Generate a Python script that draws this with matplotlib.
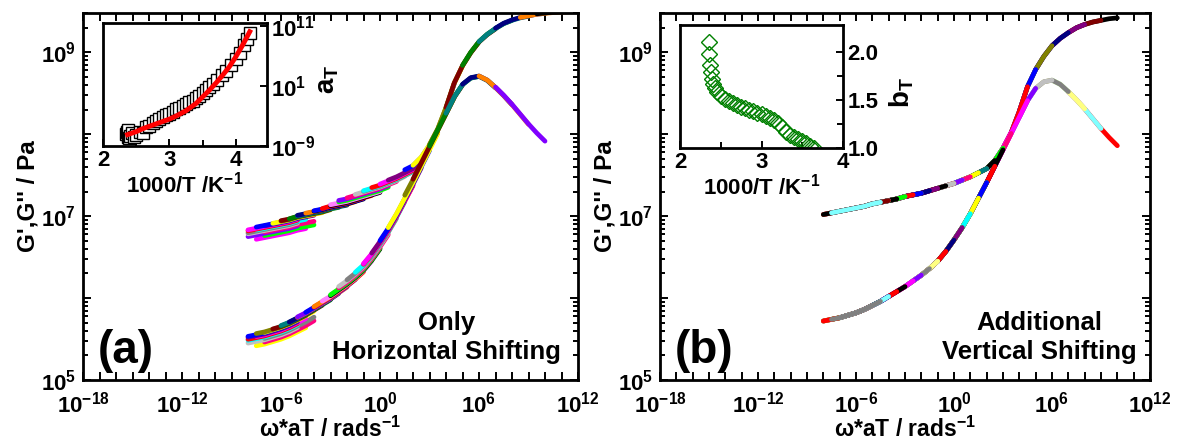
import numpy as np
import matplotlib
matplotlib.use("Agg")
import matplotlib.pyplot as plt
from matplotlib.ticker import FixedLocator, FuncFormatter, LogLocator, NullFormatter, NullLocator

plt.rcParams.update({
    "font.family": ["Liberation Sans", "DejaVu Sans"],
    "font.weight": "bold",
    "axes.labelweight": "bold",
    "mathtext.fontset": "custom",
    "mathtext.rm": "Liberation Sans:bold",
    "mathtext.it": "Liberation Sans:bold",
    "mathtext.bf": "Liberation Sans:bold",
    "mathtext.sf": "Liberation Sans:bold",
    "mathtext.default": "rm",
})

# ---------------------------------------------------------------- data
# measurement temperatures, 1000/T in K^-1
inv_T = [2.35, 2.36, 2.37, 2.38, 2.39, 2.40, 2.43, 2.46, 2.50, 2.55, 2.60,
         2.65, 2.70, 2.75, 2.80, 2.85, 2.90, 2.95, 3.00, 3.05, 3.10, 3.15,
         3.20, 3.25, 3.30, 3.35, 3.40, 3.45, 3.50, 3.55, 3.60, 3.65, 3.72,
         3.79, 3.86, 3.93, 4.00, 4.06, 4.12, 4.17, 4.21]
# horizontal shift factors, log10(a_T)
log_aT = [-7.0, -6.6, -7.5, -6.4, -7.6, -7.3, -6.9, -7.5, -7.2, -6.6, -6.9,
          -5.9, -5.6, -5.2, -4.9, -4.5, -4.2, -3.9, -3.6, -3.3, -2.9, -2.6,
          -2.3, -2.0, -1.7, -1.4, -1.0, -0.6, -0.2, 0.3, 0.8, 1.3, 2.0,
          2.8, 3.6, 4.5, 5.5, 6.6, 7.8, 8.9, 9.9]
# vertical shift factors b_T
b_T = [2.10, 1.98, 1.86, 1.79, 1.72, 1.67, 1.62, 1.58, 1.54, 1.51, 1.49,
       1.47, 1.45, 1.43, 1.42, 1.40, 1.38, 1.36, 1.35, 1.33, 1.31, 1.29,
       1.26, 1.22, 1.17, 1.14, 1.11, 1.09, 1.07, 1.05, 1.02, 1.00, 0.92,
       0.91, 0.90, 0.90, 0.89, 0.89, 0.88, 0.88, 0.87]
# fitted a_T curve
fit_inv_T = [2.37, 2.50, 2.60, 2.75, 2.90, 3.00, 3.10, 3.25, 3.40, 3.50,
             3.60, 3.70, 3.80, 3.90, 4.00, 4.10, 4.21]
fit_log_aT = [-7.1, -6.6, -6.1, -5.5, -4.9, -4.5, -4.0, -3.1, -1.9, -0.8,
              0.3, 1.5, 2.8, 4.2, 5.9, 7.8, 10.1]

# master curves after horizontal and vertical shifting (log10 w*aT, log10 G)
log_w_storage = np.arange(-8.0, 11.51, 0.5)
log_G_storage = [7.02, 7.04, 7.06, 7.08, 7.10, 7.12, 7.15, 7.17, 7.19, 7.21,
                 7.24, 7.26, 7.28, 7.31, 7.34, 7.37, 7.40, 7.44, 7.48, 7.53,
                 7.58, 7.68, 7.83, 8.02, 8.28, 8.58, 8.79, 8.95, 9.08, 9.17,
                 9.24, 9.30, 9.34, 9.37, 9.39, 9.41, 9.42, 9.43, 9.435, 9.44]
log_w_loss = np.arange(-8.0, 10.51, 0.5)
log_G_loss = [5.72, 5.74, 5.76, 5.79, 5.82, 5.86, 5.91, 5.96, 6.02, 6.08,
              6.14, 6.21, 6.28, 6.36, 6.45, 6.57, 6.71, 6.86, 7.03, 7.22,
              7.41, 7.61, 7.81, 8.01, 8.21, 8.41, 8.56, 8.64, 8.66, 8.61,
              8.52, 8.42, 8.31, 8.19, 8.07, 7.96, 7.86, 7.76]

# each frequency sweep: lowest log10(w) and width in decades
sweep_log_w_min = -0.6
sweep_decades = 3.0
# sweeps used for the loss modulus and for the vertically shifted set
n_shifted = 39

BLACK, RED, BLUE, GREEN, LIME = "#000000", "#FF0000", "#0000FF", "#008000", "#00FF00"
MAGENTA, YELLOW, NAVY, PURPLE = "#FF00FF", "#FFFF00", "#000080", "#800080"
WINE, OLIVE, DCYAN, ORANGE = "#800000", "#808000", "#008080", "#FF8000"
VIOLET, PINK, LTGRAY, GRAY = "#8000FF", "#FF0080", "#C0C0C0", "#808080"
LTYELLOW, LTCYAN, LTMAGENTA, CYAN = "#FFFF80", "#80FFFF", "#FF80FF", "#00FFFF"

# colour sequences, counted back from the coldest sweep
pal_a_storage = [BLACK, ORANGE, NAVY, DCYAN, GREEN, WINE, OLIVE, YELLOW, BLUE,
                 PURPLE, MAGENTA, RED, CYAN, GRAY, LTGRAY, PINK, VIOLET, LIME,
                 LTMAGENTA, BLACK, RED, BLUE]
pal_a_loss = [VIOLET, ORANGE, NAVY, DCYAN, GREEN, WINE, OLIVE, YELLOW, BLUE,
              PURPLE, MAGENTA, RED, CYAN, GRAY, LTGRAY, PINK, LIME, BLACK,
              LTMAGENTA, ORANGE, RED, BLUE]
pal_b_storage = [BLACK, WINE, PURPLE, NAVY, OLIVE, BLUE, RED, MAGENTA, LIME,
                 BLACK, GRAY, DCYAN, YELLOW, PINK, CYAN, VIOLET, ORANGE, LTGRAY]
pal_b_loss = [RED, LTCYAN, LTYELLOW, GRAY, LTGRAY, VIOLET, MAGENTA, PINK, BLACK,
              RED, LIME, BLUE, YELLOW, CYAN, OLIVE, PURPLE, ORANGE, NAVY]


def sweep_windows(n):
    """Grid window (start, end) in log w of each shifted sweep."""
    out = []
    for k in range(n):
        start = np.round((log_aT[k] + sweep_log_w_min) * 2) / 2
        out.append((start, start + sweep_decades))
    return out


def draw_set(ax, grid, master, n, palette, first_colour, vertical, reverse_z):
    grid = np.asarray(grid)
    master = np.asarray(master)
    for k, (lo, hi) in enumerate(sweep_windows(n)):
        sel = (grid >= lo - 1e-6) & (grid <= hi + 1e-6)
        if sel.sum() < 2:
            continue
        lg = master[sel] - (0.0 if vertical else np.log10(b_T[k]))
        colour = first_colour if k == 0 else palette[(n - 1 - k) % len(palette)]
        z = (n - k) if reverse_z else k
        ax.plot(10 ** grid[sel], 10 ** lg, color=colour, lw=3.4,
                solid_capstyle="round", zorder=2 + z * 0.01)


def decade_label(step):
    def f(v, pos):
        e = int(round(np.log10(v)))
        return f"$10^{{{e}}}$" if e % step == 0 else ""
    return f


def odd_decade(v, pos):
    e = int(round(np.log10(v)))
    return f"$10^{{{e}}}$" if e % 2 == 1 else ""


def style_main(ax):
    ax.set_xscale("log")
    ax.set_yscale("log")
    ax.set_xlim(1e-18, 1e12)
    ax.set_ylim(1e5, 10 ** 9.48)
    ax.xaxis.set_major_locator(FixedLocator(10.0 ** np.arange(-18, 13)))
    ax.xaxis.set_major_formatter(FuncFormatter(decade_label(6)))
    ax.xaxis.set_minor_locator(NullLocator())
    ax.yaxis.set_major_locator(FixedLocator(10.0 ** np.arange(5, 10)))
    ax.yaxis.set_major_formatter(FuncFormatter(odd_decade))
    ax.yaxis.set_minor_locator(LogLocator(base=10, subs=np.arange(2, 10) * 1.0, numticks=30))
    ax.yaxis.set_minor_formatter(NullFormatter())
    ax.tick_params(which="both", direction="in", top=True, right=True, width=1.4,
                   labelsize=16)
    ax.tick_params(axis="x", pad=8)
    ax.tick_params(axis="y", pad=5)
    ax.tick_params(which="major", length=6)
    ax.tick_params(which="minor", length=3.5)
    for s in ax.spines.values():
        s.set_linewidth(2.0)
    ax.set_xlabel("ω*aT / rads$^{-1}$", fontsize=16.5, labelpad=0)
    ax.set_ylabel("G',G'' / Pa", fontsize=17.5, labelpad=1)


def style_inset(ax):
    ax.yaxis.tick_right()
    ax.yaxis.set_label_position("right")
    ax.tick_params(which="both", direction="in", width=1.4, labelsize=16, pad=3,
                   left=False, right=True, top=False, bottom=True)
    ax.tick_params(which="major", length=5)
    ax.tick_params(which="minor", length=4)
    for s in ax.spines.values():
        s.set_linewidth(2.0)
    ax.set_xlabel("1000/T /K$^{-1}$", fontsize=16, labelpad=0)


fig = plt.figure(figsize=(11.81, 4.46), dpi=100)
W, H = 1181, 446

# ---------------------------------------------------------------- panel (a)
ax_a = fig.add_axes([83 / W, 1 - 380 / H, 495 / W, 367 / H])
style_main(ax_a)
draw_set(ax_a, log_w_storage, log_G_storage, len(inv_T), pal_a_storage, MAGENTA, False, False)
draw_set(ax_a, log_w_loss, log_G_loss, n_shifted, pal_a_loss, YELLOW, False, False)
ax_a.text(0.03, 0.08, "(a)", transform=ax_a.transAxes, fontsize=33, ha="left", va="center")
ax_a.text(0.735, 0.115, "Only\nHorizontal Shifting", transform=ax_a.transAxes,
          fontsize=18.5, ha="center", va="center", linespacing=1.25)

ins_a = fig.add_axes([103 / W, 1 - 146 / H, 164 / W, 123 / H])
ins_a.set_yscale("log")
ins_a.plot(inv_T, 10.0 ** np.asarray(log_aT), "s", ms=8.3, mfc="white", mec="black",
           mew=1.0, zorder=2)
ins_a.plot(fit_inv_T, 10.0 ** np.asarray(fit_log_aT), color="red", lw=3.5, zorder=3)
ins_a.set_xlim(2, 4.47)
ins_a.set_ylim(1e-9, 10 ** 11.55)
ins_a.xaxis.set_major_locator(FixedLocator([2, 3, 4]))
ins_a.xaxis.set_minor_locator(FixedLocator([2.5, 3.5]))
ins_a.yaxis.set_major_locator(FixedLocator([1e-9, 1e1, 1e11]))
ins_a.yaxis.set_major_formatter(FuncFormatter(decade_label(1)))
ins_a.yaxis.set_minor_locator(NullLocator())
style_inset(ins_a)
ins_a.set_ylabel("$a_T$", fontsize=20, rotation=90)
ins_a.yaxis.set_label_coords(1.29, 0.54)

# ---------------------------------------------------------------- panel (b)
ax_b = fig.add_axes([660 / W, 1 - 380 / H, 490 / W, 367 / H])
style_main(ax_b)
draw_set(ax_b, log_w_storage, log_G_storage, n_shifted, pal_b_storage, LTCYAN, True, True)
draw_set(ax_b, log_w_loss, log_G_loss, n_shifted, pal_b_loss, GRAY, True, True)
ax_b.text(0.03, 0.08, "(b)", transform=ax_b.transAxes, fontsize=33, ha="left", va="center")
ax_b.text(0.775, 0.115, "Additional\nVertical Shifting", transform=ax_b.transAxes,
          fontsize=18.5, ha="center", va="center", linespacing=1.25)

ins_b = fig.add_axes([680 / W, 1 - 148 / H, 163 / W, 123 / H])
ins_b.plot(inv_T, b_T, "D", ms=8.5, mfc="none", mec=GREEN, mew=1.0)
ins_b.set_xlim(2, 4)
ins_b.set_ylim(1.0, 2.28)
ins_b.xaxis.set_major_locator(FixedLocator([2, 3, 4]))
ins_b.xaxis.set_minor_locator(FixedLocator([2.5, 3.5]))
ins_b.yaxis.set_major_locator(FixedLocator([1.0, 1.5, 2.0]))
ins_b.yaxis.set_minor_locator(FixedLocator([1.25, 1.75]))
ins_b.yaxis.set_major_formatter(FuncFormatter(lambda v, p: f"{v:.1f}"))
style_inset(ins_b)
ins_b.set_ylabel("$b_T$", fontsize=20, rotation=90)
ins_b.yaxis.set_label_coords(1.27, 0.45)

fig.savefig("out.png", dpi=100)
